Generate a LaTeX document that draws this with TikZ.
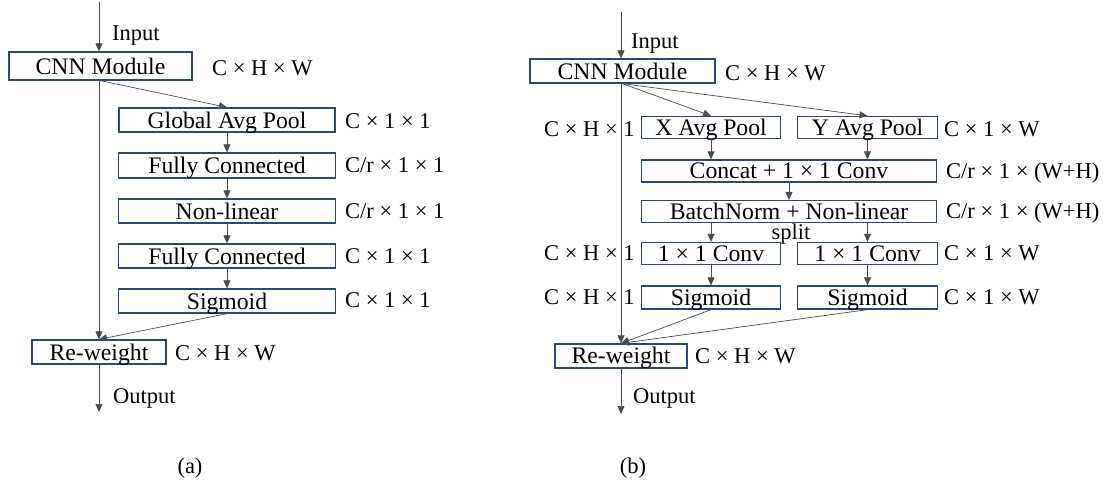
\documentclass[tikz,border=0pt]{standalone}
\usepackage{fontspec}
\setmainfont{Liberation Serif}
\usetikzlibrary{arrows.meta,calc}
\definecolor{boxc}{RGB}{47,72,110}
\begin{document}
\begin{tikzpicture}[x=1pt,y=-1pt,
  font=\fontsize{22.5}{27}\selectfont,
  blk/.style={draw=boxc,line width=1.3pt,rectangle,inner sep=0pt,minimum height=24pt,text height=16pt,text depth=0pt,font=\fontsize{23.7}{28}\selectfont},
  lbl/.style={anchor=base west,inner sep=0pt},
  clbl/.style={anchor=base,inner sep=0pt},
  conn/.style={draw=black!70,line width=0.7pt},
  arr/.style={conn,-{Triangle[length=8pt,width=7pt]}}]
\useasboundingbox (0,0) rectangle (1110,480);

% ---------- (a) ----------
\node[blk,minimum width=183pt,minimum height=28pt,text height=17pt] (cnnA) at (100.5,66) {CNN Module};
\node[blk,minimum width=216pt] (gap) at (227,120) {Global Avg Pool};
\node[blk,minimum width=217pt,minimum height=25pt] (fc1) at (227,165.5) {Fully Connected};
\node[blk,minimum width=217pt] (nl) at (227,211) {Non-linear};
\node[blk,minimum width=217pt] (fc2) at (227,256) {Fully Connected};
\node[blk,minimum width=217pt] (sig) at (227,301) {Sigmoid};
\node[blk,minimum width=134pt] (rwA) at (99,352) {Re-weight};

\node[lbl] (lcnnA) at (212,75) {C × H × W};
\node[lbl] (lgap) at (345,128) {C × 1 × 1};
\node[lbl] (lfc1) at (345,172) {C/r × 1 × 1};
\node[lbl] (lnl) at (345,218) {C/r × 1 × 1};
\node[lbl] (lfc2) at (345,263) {C × 1 × 1};
\node[lbl] (lsig) at (345,307) {C × 1 × 1};
\node[lbl] (lrwA) at (175,360) {C × H × W};
\node[lbl] (inAl) at (112,40) {Input};
\node[lbl] (outAl) at (113,403) {Output};
\node[clbl] (capA) at (190,473) {(a)};

\coordinate (inA) at (99,2);
\coordinate (outA) at (99,412);
\draw[arr] (inA) -- (inA |- cnnA.north);
\draw[arr] (cnnA.south -| rwA.north) -- (rwA.north);
\draw[arr] (cnnA.south) -- (gap.north);
\draw[arr] (gap.south) -- (fc1.north);
\draw[arr] (fc1.south) -- (nl.north);
\draw[arr] (nl.south) -- (fc2.north);
\draw[arr] (fc2.south) -- (sig.north);
\draw[arr] (sig.south) -- (rwA.north);
\draw[arr] (rwA.south) -- (outA);

% ---------- (b) ----------
\node[blk,minimum width=185pt] (cnnB) at (622.5,71) {CNN Module};
\node[blk,minimum width=139.5pt,minimum height=22pt] (xp) at (711,127.5) {X Avg Pool};
\node[blk,minimum width=139.5pt,minimum height=22pt] (yp) at (867.5,127.5) {Y Avg Pool};
\node[blk,minimum width=295.5pt,minimum height=22pt,text height=15pt] (cat) at (789,171) {Concat + 1 × 1 Conv};
\node[blk,minimum width=295.5pt,minimum height=22pt,text height=15pt] (bn) at (789,211.5) {BatchNorm + Non-linear};
\node[blk,minimum width=139.5pt,minimum height=22pt,text height=15pt] (c1) at (711,253.5) {1 × 1 Conv};
\node[blk,minimum width=139.5pt,minimum height=22pt,text height=15pt] (c2) at (867.5,253.5) {1 × 1 Conv};
\node[blk,minimum width=139.5pt,minimum height=23pt,text height=15pt] (s1) at (711,297.5) {Sigmoid};
\node[blk,minimum width=139.5pt,minimum height=23pt,text height=15pt] (s2) at (867.5,297.5) {Sigmoid};
\node[blk,minimum width=132pt,text height=14pt] (rwB) at (621,356) {Re-weight};

\node[lbl] (inBl) at (631,48) {Input};
\node[lbl] (lcnnB) at (725,80) {C × H × W};
\node[lbl] (lxp) at (544,136) {C × H × 1};
\node[lbl] (lyp) at (944,136) {C × 1 × W};
\node[lbl] (lcat) at (946,178) {C/r × 1 × (W+H)};
\node[lbl] (lbn) at (946,218) {C/r × 1 × (W+H)};
\node[clbl] (split) at (791,239) {split};
\node[lbl] (lc1) at (544,260) {C × H × 1};
\node[lbl] (lc2) at (944,260) {C × 1 × W};
\node[lbl] (ls1) at (544,304) {C × H × 1};
\node[lbl] (ls2) at (944,304) {C × 1 × W};
\node[lbl] (lrwB) at (695,363) {C × H × W};
\node[lbl] (outBl) at (633,403) {Output};
\node[clbl] (capB) at (633,473) {(b)};

\coordinate (inB) at (621,12);
\coordinate (outB) at (621,414);
\draw[arr] (inB) -- (inB |- cnnB.north);
\draw[arr] (cnnB.south -| rwB.north) -- (rwB.north);
\draw[arr] (cnnB.south) -- (xp.north);
\draw[arr] (cnnB.south) -- (yp.north);
\draw[arr] (xp.south) -- (xp.south |- cat.north);
\draw[arr] (yp.south) -- (yp.south |- cat.north);
\draw[arr] (cat.south) -- (bn.north);
\draw[arr] (c1.north |- bn.south) -- (c1.north);
\draw[arr] (c2.north |- bn.south) -- (c2.north);
\draw[arr] (c1.south) -- (s1.north);
\draw[arr] (c2.south) -- (s2.north);
\draw[arr] (s1.south) -- (rwB.north);
\draw[arr] (s2.south) -- (rwB.north);
\draw[arr] (rwB.south) -- (outB);
\end{tikzpicture}
\end{document}
